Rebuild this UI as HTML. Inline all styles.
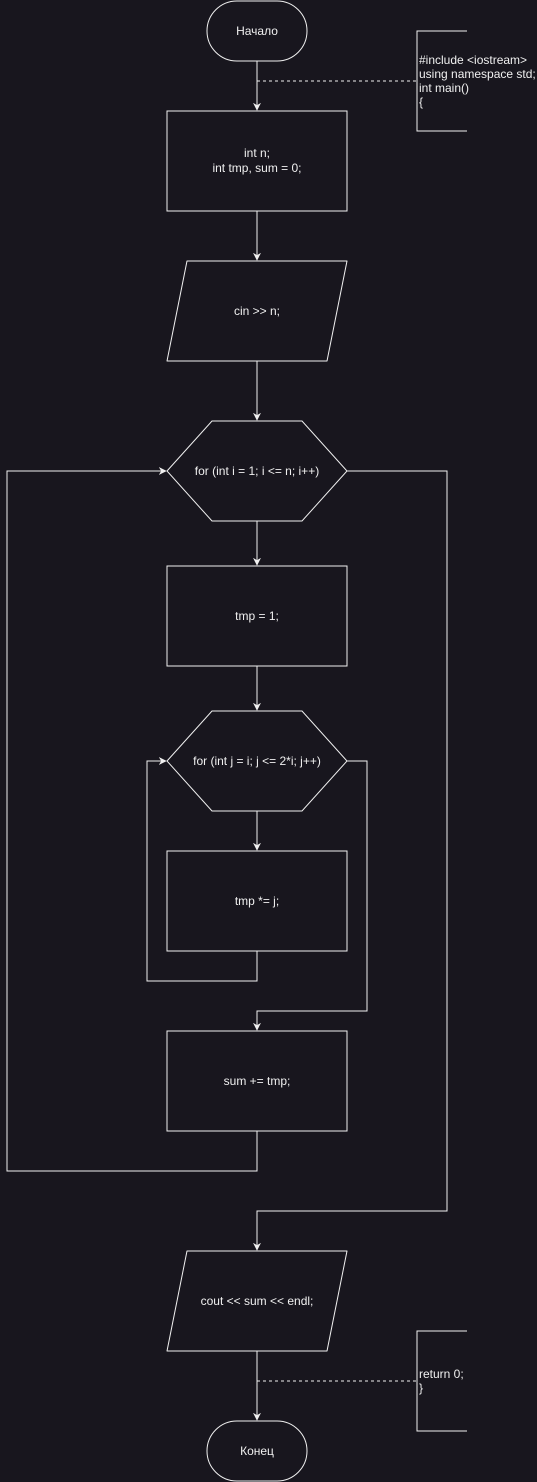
<!DOCTYPE html>
<html><head><meta charset="utf-8"><style>
html,body{margin:0;padding:0;background:#18161e;}
svg{display:block}
text{font-family:"Liberation Sans","Noto Sans CJK SC",sans-serif;font-size:12px;fill:#f0f0f0}
.s{fill:none;stroke:#f0f0f0;stroke-width:1}
</style></head><body>
<svg width="537" height="1482" viewBox="0 0 537 1482">
<defs><marker id="a" viewBox="0 0 10 10" refX="9" refY="5" markerWidth="8" markerHeight="8" orient="auto"><path d="M0,0 L10,5 L0,10 L3,5 z" fill="#f0f0f0"/></marker></defs>
<rect width="537" height="1482" fill="#18161e"/>
<g><rect class="s" x="207" y="1" width="100" height="60" rx="30" stroke-width="2"/><text x="257" y="35" text-anchor="middle">Начало</text></g>
<path class="s" d="M257,61 V110" marker-end="url(#a)"/>
<path class="s" d="M257,81 H417" stroke-dasharray="3,3"/>
<g><path class="s" d="M467,31 H417 V131 H467" stroke-width="2"/>
<text x="419" y="64">#include &lt;iostream&gt;</text><text x="419" y="78">using namespace std;</text><text x="419" y="92">int main()</text><text x="419" y="106">{</text></g>
<g><rect class="s" x="167" y="111" width="180" height="100"/><text x="257" y="157" text-anchor="middle">int n;</text><text x="257" y="172" text-anchor="middle">int tmp, sum = 0;</text></g>
<path class="s" d="M257,211 V260" marker-end="url(#a)"/>
<g><path class="s" stroke-width="2" d="M187,261 H347 L327,361 H167 Z" stroke-linejoin="round"/><text x="257" y="315" text-anchor="middle">cin &gt;&gt; n;</text></g>
<path class="s" d="M257,361 V420" marker-end="url(#a)"/>
<g><path class="s" d="M167,471 L212,421 H302 L347,471 L302,521 H212 Z"/><text x="257" y="475" text-anchor="middle">for (int i = 1; i &lt;= n; i++)</text></g>
<path class="s" d="M257,521 V565" marker-end="url(#a)"/>
<g><rect class="s" x="167" y="566" width="180" height="100"/><text x="257" y="620" text-anchor="middle">tmp = 1;</text></g>
<path class="s" d="M257,666 V710" marker-end="url(#a)"/>
<g><path class="s" d="M167,761 L212,711 H302 L347,761 L302,811 H212 Z"/><text x="257" y="765" text-anchor="middle">for (int j = i; j &lt;= 2*i; j++)</text></g>
<path class="s" d="M257,811 V850" marker-end="url(#a)"/>
<g><rect class="s" x="167" y="851" width="180" height="100"/><text x="257" y="905" text-anchor="middle">tmp *= j;</text></g>
<path class="s" d="M257,951 V981 H147 V761 H166" marker-end="url(#a)"/>
<path class="s" d="M347,761 H367 V1011 H257 V1030" marker-end="url(#a)"/>
<g><rect class="s" x="167" y="1031" width="180" height="100"/><text x="257" y="1085" text-anchor="middle">sum += tmp;</text></g>
<path class="s" d="M257,1131 V1171 H7 V471 H166" marker-end="url(#a)"/>
<path class="s" d="M347,471 H447 V1211 H257 V1250" marker-end="url(#a)"/>
<g><path class="s" stroke-width="2" d="M187,1251 H347 L327,1351 H167 Z" stroke-linejoin="round"/><text x="257" y="1305" text-anchor="middle">cout &lt;&lt; sum &lt;&lt; endl;</text></g>
<path class="s" d="M257,1351 V1420" marker-end="url(#a)"/>
<path class="s" d="M257,1381 H417" stroke-dasharray="3,3"/>
<g><path class="s" d="M467,1331 H417 V1431 H467" stroke-width="2"/>
<text x="419" y="1378">return 0;</text><text x="419" y="1392">}</text></g>
<g><rect class="s" x="207" y="1421" width="100" height="60" rx="30" stroke-width="2"/><text x="257" y="1455" text-anchor="middle">Конец</text></g>
</svg>
</body></html>
